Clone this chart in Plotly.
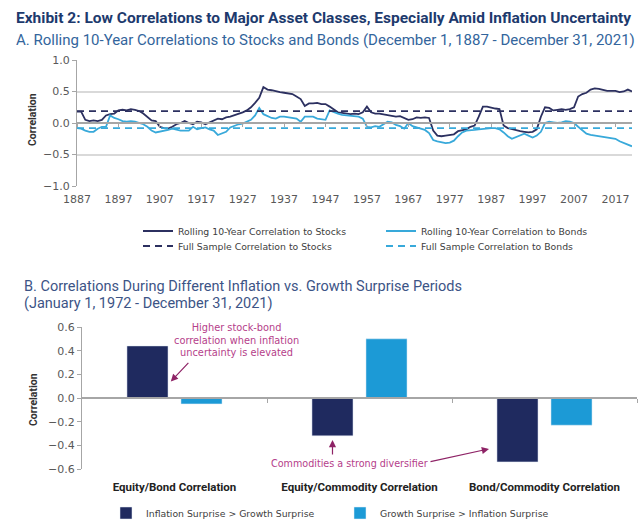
import plotly.graph_objects as go

# ---------------- Data ----------------
years = list(range(1887, 2022))
stocks_rolling = [
    0.18, 0.18, 0.05, 0.03, 0.04, 0.03, 0.05, 0.12, 0.14, 0.15,
    0.20, 0.21, 0.20, 0.22, 0.21, 0.19, 0.15, 0.10, 0.04, 0.03,
    -0.06, -0.08, -0.09, -0.06, -0.02, 0.00, 0.03, 0.00, -0.02, 0.02,
    0.01, -0.02, 0.01, 0.04, 0.07, 0.06, 0.09, 0.10, 0.12, 0.14,
    0.17, 0.20, 0.25, 0.32, 0.40, 0.57, 0.53, 0.52, 0.50, 0.49,
    0.48, 0.47, 0.46, 0.42, 0.38, 0.27, 0.31, 0.31, 0.32, 0.30,
    0.30, 0.26, 0.22, 0.17, 0.16, 0.15, 0.14, 0.15, 0.14, 0.17,
    0.26, 0.17, 0.15, 0.15, 0.14, 0.13, 0.11, 0.10, 0.11, 0.08,
    0.05, 0.06, 0.09, 0.08, 0.09, 0.08, -0.12, -0.20, -0.21, -0.20,
    -0.19, -0.18, -0.13, -0.11, -0.10, -0.06, -0.04, 0.10, 0.26, 0.26,
    0.24, 0.23, 0.22, -0.04, -0.08, -0.10, -0.12, -0.13, -0.14, -0.15,
    -0.14, -0.10, 0.10, 0.25, 0.24, 0.20, 0.21, 0.22, 0.21, 0.22,
    0.25, 0.42, 0.46, 0.48, 0.53, 0.55, 0.54, 0.52, 0.51, 0.51,
    0.51, 0.49, 0.50, 0.53, 0.50,
]
bonds_rolling = [
    -0.08, -0.09, -0.12, -0.14, -0.14, -0.09, -0.06, -0.06, 0.12, 0.08,
    0.06, 0.03, 0.02, 0.03, 0.02, 0.00, -0.02, -0.06, -0.12, -0.15,
    -0.14, -0.13, -0.11, -0.09, -0.11, -0.12, -0.12, -0.12, -0.06, -0.10,
    -0.08, -0.07, -0.10, -0.12, -0.19, -0.16, -0.14, -0.07, -0.04, -0.02,
    -0.01, 0.02, 0.05, 0.12, 0.24, 0.14, 0.11, 0.08, 0.07, 0.10,
    0.10, 0.09, 0.08, 0.07, 0.02, 0.10, 0.10, 0.10, 0.07, 0.06,
    0.05, 0.20, 0.17, 0.15, 0.13, 0.12, 0.11, 0.10, 0.10, 0.07,
    -0.06, -0.07, -0.05, -0.06, -0.02, 0.02, 0.01, -0.03, -0.05, -0.09,
    0.00, -0.05, -0.07, -0.09, -0.11, -0.16, -0.27, -0.29, -0.30, -0.32,
    -0.31, -0.28, -0.21, -0.15, -0.12, -0.12, -0.11, -0.10, -0.09, -0.09,
    -0.08, -0.08, -0.10, -0.15, -0.21, -0.25, -0.22, -0.19, -0.17, -0.20,
    -0.23, -0.20, -0.14, 0.00, 0.02, 0.01, 0.00, 0.01, 0.03, 0.02,
    0.00, -0.06, -0.12, -0.17, -0.19, -0.20, -0.21, -0.22, -0.23, -0.24,
    -0.25, -0.29, -0.32, -0.34, -0.37,
]
full_sample_stocks = 0.19
full_sample_bonds = -0.08
year_ticks = [1887, 1897, 1907, 1917, 1927, 1937, 1947, 1957, 1967, 1977, 1987, 1997, 2007, 2017]
corr_ticks_a = [-1.0, -0.5, 0.0, 0.5, 1.0]

categories = ["Equity/Bond Correlation", "Equity/Commodity Correlation", "Bond/Commodity Correlation"]
inflation_gt_growth = [0.44, -0.32, -0.54]
growth_gt_inflation = [-0.05, 0.50, -0.23]
corr_ticks_b = [-0.6, -0.4, -0.2, 0.0, 0.2, 0.4, 0.6]

# ---------------- Styling ----------------
W, H = 641, 531
NAVY_LINE = "#2c3060"
BLUE_LINE = "#38a9da"
NAVY_BAR = "#1f2a5f"
BLUE_BAR = "#1c9ad6"
GRID = "#d9d9d9"
AXIS = "#a6a6a6"
FONT = "Roboto"
WIDE = "DejaVu Sans"
TICKFONT = dict(family=WIDE, size=11, color="#595959")


def px(x):
    return x / W


def py(y):
    return 1 - y / H


# Panel A plot box (pixels)
A_L, A_R, A_T, A_B = 77, 632, 60, 186
# Panel B plot box
B_L, B_R, B_T, B_B = 82, 637, 327, 469

a_dom_y = [py(A_B), py(A_T)]
b_dom_y = [py(B_B), py(B_T)]
a_range_y = [-1.0, 1.0]
b_range_y = [-0.6, 0.6]
a_zero_pos = a_dom_y[0] + (0 - a_range_y[0]) / (a_range_y[1] - a_range_y[0]) * (a_dom_y[1] - a_dom_y[0])
b_zero_pos = b_dom_y[0] + (0 - b_range_y[0]) / (b_range_y[1] - b_range_y[0]) * (b_dom_y[1] - b_dom_y[0])

fig = go.Figure()

# Panel A traces
fig.add_trace(go.Scatter(x=years, y=stocks_rolling, mode="lines", name="Rolling 10-Year Correlation to Stocks",
                         line=dict(color=NAVY_LINE, width=1.8), xaxis="x", yaxis="y", legend="legend"))
fig.add_trace(go.Scatter(x=years, y=bonds_rolling, mode="lines", name="Rolling 10-Year Correlation to Bonds",
                         line=dict(color=BLUE_LINE, width=1.8), xaxis="x", yaxis="y", legend="legend"))
fig.add_trace(go.Scatter(x=[years[0], years[-1]], y=[full_sample_stocks, full_sample_stocks], mode="lines",
                         name="Full Sample Correlation to Stocks",
                         line=dict(color=NAVY_LINE, width=1.8, dash="7px,5px"), xaxis="x", yaxis="y", legend="legend2"))
fig.add_trace(go.Scatter(x=[years[0], years[-1]], y=[full_sample_bonds, full_sample_bonds], mode="lines",
                         name="Full Sample Correlation to Bonds",
                         line=dict(color=BLUE_LINE, width=1.8, dash="7px,5px"), xaxis="x", yaxis="y", legend="legend2"))

# Panel B traces
fig.add_trace(go.Bar(x=categories, y=inflation_gt_growth, name="Inflation Surprise > Growth Surprise",
                     marker=dict(color=NAVY_BAR), xaxis="x3", yaxis="y3", legend="legend3"))
fig.add_trace(go.Bar(x=categories, y=growth_gt_inflation, name="Growth Surprise > Inflation Surprise",
                     marker=dict(color=BLUE_BAR), xaxis="x3", yaxis="y3", legend="legend3"))

# helper invisible traces to activate overlay axes
fig.add_trace(go.Scatter(x=[years[0]], y=[0], xaxis="x2", yaxis="y", mode="markers",
                         marker=dict(opacity=0), showlegend=False, hoverinfo="skip"))
fig.add_trace(go.Scatter(x=[0], y=[0], xaxis="x4", yaxis="y3", mode="markers",
                         marker=dict(opacity=0), showlegend=False, hoverinfo="skip"))

legend_common = dict(orientation="h", xanchor="left", yanchor="middle", bgcolor="rgba(0,0,0,0)",
                     font=dict(family=WIDE, size=9.3, color="#404040"), entrywidth=198, entrywidthmode="pixels",
                     itemclick=False, itemdoubleclick=False, borderwidth=0)

fig.update_layout(
    width=W, height=H,
    margin=dict(l=0, r=0, t=0, b=0, autoexpand=False),
    paper_bgcolor="white", plot_bgcolor="rgba(0,0,0,0)",
    font=dict(family=FONT, color="#404040"),
    barmode="group", bargap=0.416, bargroupgap=0.24,
    showlegend=True,
    legend=dict(x=px(138), y=py(231), **legend_common),
    legend2=dict(x=px(138), y=py(246), **legend_common),
    legend3=dict(x=px(106), y=py(513), orientation="h", xanchor="left", yanchor="middle", bgcolor="rgba(0,0,0,0)",
                 font=dict(family=WIDE, size=9.3, color="#404040"), entrywidth=189, entrywidthmode="pixels",
                 itemclick=False, itemdoubleclick=False, borderwidth=0),
    xaxis=dict(domain=[px(A_L), px(A_R)], range=[years[0], years[-1]], tickvals=year_ticks,
               showgrid=False, zeroline=False, showline=False, ticks="", tickfont=TICKFONT,
               anchor="y", ticklabelstandoff=5),
    yaxis=dict(domain=a_dom_y, range=a_range_y, tickvals=corr_ticks_a, tickformat=".1f",
               showgrid=True, gridcolor=GRID, gridwidth=1.5, zeroline=False, showline=True, linecolor=AXIS,
               linewidth=1, ticks="outside", ticklen=4, tickcolor=AXIS, tickfont=TICKFONT, anchor="x"),
    xaxis2=dict(overlaying="x", anchor="free", position=a_zero_pos, range=[years[0], years[-1]],
                tickvals=year_ticks, showticklabels=False, showgrid=False, zeroline=False,
                showline=True, linecolor=AXIS, linewidth=1.5, ticks="outside", ticklen=3, tickcolor=AXIS),
    xaxis3=dict(domain=[px(B_L), px(B_R)], type="category", range=[-0.5, 2.5],
                showgrid=False, zeroline=False, showline=False, ticks="",
                tickfont=dict(family=FONT, size=11.5, color="#222222", weight="bold"),
                anchor="y3", ticklabelstandoff=9),
    yaxis3=dict(domain=b_dom_y, range=b_range_y, tickvals=corr_ticks_b, tickformat=".1f",
                showgrid=False, zeroline=False, showline=True, linecolor=AXIS, linewidth=1,
                ticks="outside", ticklen=4, tickcolor=AXIS, tickfont=TICKFONT, anchor="x3"),
    xaxis4=dict(overlaying="x3", anchor="free", position=b_zero_pos, range=[-0.5, 2.5],
                tickvals=[0.5, 1.5, 2.5], showticklabels=False, showgrid=False, zeroline=False,
                showline=True, linecolor=AXIS, linewidth=1.5, ticks="outside", ticklen=4, tickcolor=AXIS),
)

TITLE_C = "#1d3a6d"
SUB_A_C = "#33659c"
SUB_B_C = "#3c5486"
ANN_TXT = "#b5408a"
ANN_ARR = "#8e2366"

annotations = [
    dict(text="<b>Exhibit 2: Low Correlations to Major Asset Classes, Especially Amid Inflation Uncertainty</b>",
         x=px(14), y=py(18), xref="paper", yref="paper", xanchor="left", yanchor="middle", showarrow=False,
         font=dict(family=FONT, size=15.5, color=TITLE_C)),
    dict(text="A. Rolling 10-Year Correlations to Stocks and Bonds (December 1, 1887 - December 31, 2021)",
         x=px(14), y=py(40), xref="paper", yref="paper", xanchor="left", yanchor="middle", showarrow=False,
         font=dict(family=FONT, size=15, color=SUB_A_C)),
    dict(text="B. Correlations During Different Inflation vs. Growth Surprise Periods",
         x=px(22), y=py(286), xref="paper", yref="paper", xanchor="left", yanchor="middle", showarrow=False,
         font=dict(family=FONT, size=14.5, color=SUB_B_C)),
    dict(text="(January 1, 1972 - December 31, 2021)",
         x=px(22), y=py(303), xref="paper", yref="paper", xanchor="left", yanchor="middle", showarrow=False,
         font=dict(family=FONT, size=14.5, color=SUB_B_C)),
    dict(text="<b>Correlation</b>", x=px(32), y=py(120), xref="paper", yref="paper", textangle=-90,
         xanchor="center", yanchor="middle", showarrow=False, font=dict(family=FONT, size=10.5, color="#333333")),
    dict(text="<b>Correlation</b>", x=px(33), y=py(400), xref="paper", yref="paper", textangle=-90,
         xanchor="center", yanchor="middle", showarrow=False, font=dict(family=FONT, size=10.5, color="#333333")),
    dict(text="Higher stock-bond<br>correlation when inflation<br>uncertainty is elevated",
         x=0.335, y=0.49, xref="x3", yref="y3", xanchor="center", yanchor="middle", showarrow=False,
         font=dict(family=WIDE, size=9.8, color=ANN_TXT)),
    dict(text="", x=-0.02, y=0.14, xref="x3", yref="y3", showarrow=True, arrowhead=2, arrowsize=1.2,
         arrowwidth=1.2, arrowcolor=ANN_ARR, ax=19, ay=-20),
    dict(text="Commodities a strong diversifier", x=0.946, y=-0.55, xref="x3", yref="y3",
         xanchor="center", yanchor="middle", showarrow=False, font=dict(family=WIDE, size=9.6, color=ANN_TXT)),
    dict(text="", x=0.854, y=-0.355, xref="x3", yref="y3", showarrow=True, arrowhead=2, arrowsize=1.2,
         arrowwidth=1.2, arrowcolor=ANN_ARR, ax=0, ay=16),
    dict(text="", x=1.70, y=-0.43, xref="x3", yref="y3", showarrow=True, arrowhead=2, arrowsize=1.2,
         arrowwidth=1.2, arrowcolor=ANN_ARR, ax=-60, ay=13),
]
fig.update_layout(annotations=annotations)

fig.write_html("out.html", config={"displayModeBar": False},
               post_script="document.body.style.margin='0';")
